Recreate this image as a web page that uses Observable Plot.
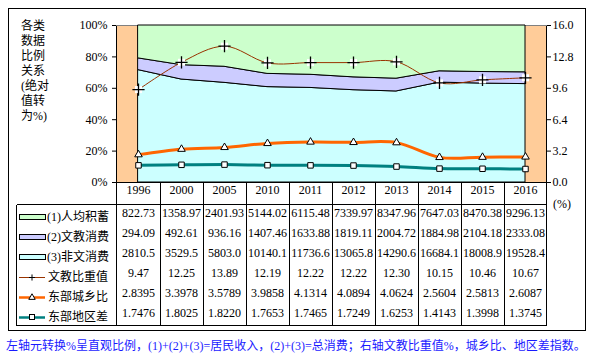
<!DOCTYPE html>
<html><head><meta charset="utf-8">
<script src="https://cdn.jsdelivr.net/npm/d3@7"></script>
<script src="https://cdn.jsdelivr.net/npm/@observablehq/plot@0.6"></script>
<style>
html,body{margin:0;padding:0;background:#fff;}
svg{display:block;}
</style></head><body>
<div id="chart"></div>
<script>
// ---- data ----
const years = ["1996","2000","2005","2010","2011","2012","2013","2014","2015","2016"];
const savings    = [822.73,1358.97,2401.93,5144.02,6115.48,7339.97,8347.96,7647.03,8470.38,9296.13];
const eduSpend   = [294.09,492.61,936.16,1407.46,1633.88,1819.11,2004.72,1884.98,2104.18,2333.08];
const otherSpend = [2810.5,3529.5,5803.0,10140.1,11736.6,13065.8,14290.6,16684.1,18008.9,19528.4];
const eduShare   = [9.47,12.25,13.89,12.19,12.22,12.22,12.30,10.15,10.46,10.67];
const urbanRural = [2.8395,3.3978,3.5789,3.9858,4.1314,4.0894,4.0624,2.5604,2.5813,2.6087];
const regionGap  = [1.7476,1.8025,1.8220,1.7653,1.7465,1.7249,1.6253,1.4143,1.3998,1.3745];

const rowLabels = ["(1)人均积蓄","(2)文教消费","(3)非文消费","文教比重值","东部城乡比","东部地区差"];
const rowDecimals = [2,2,1,2,4,4];
const leftTicks = [0,0.2,0.4,0.6,0.8,1];
const rightTicks = [0,3.2,6.4,9.6,12.8,16];
const rightMax = 16;
const titleLines = ["各类","数据","比例","关系","(绝对","值转","为%)"];
const captionText = "左轴元转换%呈直观比例，(1)+(2)+(3)=居民收入，(2)+(3)=总消费；右轴文教比重值%，城乡比、地区差指数。";

// colours
const cGreen = "#CCFFCC", cLav = "#CCCCFF", cCyan = "#CCFFFF", cSide = "#FFCC99";
const cEdu = "#993300", cUR = "#FF6600", cRG = "#008080";

// stacked table (bottom -> top)
const stackNames = [rowLabels[2], rowLabels[1], rowLabels[0]];
const stackData = [];
[otherSpend, eduSpend, savings].forEach((arr,k)=>arr.forEach((v,i)=>stackData.push({year:years[i], series:stackNames[k], value:v})));
const toRight = arr => arr.map((v,i)=>({year:years[i], v:v/rightMax}));
const eduLine = toRight(eduShare), urLine = toRight(urbanRural), rgLine = toRight(regionGap);

const W=594, H=357, mL=116, mR=48, mT=25, mB=175;
const serif = '"Liberation Serif","Times New Roman",serif';
const mixed = '"Liberation Serif","Noto Sans CJK SC",sans-serif';
const rowDy0 = 34.5, rowH = 20;

const marks = [
  Plot.frame({fill:cSide, stroke:"#808080"}),
  Plot.areaY(stackData, Plot.stackY({offset:"normalize"}, {x:"year", y:"value", z:"series", fill:"series", stroke:"black", strokeWidth:1})),
  Plot.line(eduLine, {x:"year", y:"v", stroke:cEdu, strokeWidth:1, curve:"cardinal", tension:0}),
  Plot.line(urLine, {x:"year", y:"v", stroke:cUR, strokeWidth:3, curve:"cardinal", tension:0}),
  Plot.line(rgLine, {x:"year", y:"v", stroke:cRG, strokeWidth:3, curve:"cardinal", tension:0}),
  Plot.dot(eduLine, {x:"year", y:"v", symbol:"square", r:4, fill:"white", stroke:null}),
  Plot.dot(eduLine, {x:"year", y:"v", symbol:"plus", r:4, stroke:"black", strokeWidth:1.3}),
  Plot.dot(urLine, {x:"year", y:"v", symbol:"triangle", r:2.8, fill:"white", stroke:"black", strokeWidth:1}),
  Plot.dot(rgLine, {x:"year", y:"v", symbol:"square", r:3.1, fill:"white", stroke:"black", strokeWidth:1}),
  Plot.axisY(leftTicks, {anchor:"left", tickSize:4, tickPadding:5, tickFormat:d3.format(".0%"), fontSize:12, fontFamily:serif, label:null}),
  Plot.axisY(rightTicks.map(v=>v/rightMax), {anchor:"right", tickSize:4, tickPadding:2, tickFormat:d=>(d*rightMax).toFixed(1), fontSize:12, fontFamily:serif, label:null}),
  Plot.text(years, {x:d=>d, text:d=>d, frameAnchor:"bottom", dy:11, fontSize:12, fontFamily:serif})
];
[savings, eduSpend, otherSpend, eduShare, urbanRural, regionGap].forEach((arr,k)=>{
  marks.push(Plot.text(arr, {x:(d,i)=>years[i], text:d=>d.toFixed(rowDecimals[k]), frameAnchor:"bottom", dy:rowDy0+rowH*k, fontSize:12, fontFamily:serif}));
});

const plot = Plot.plot({
  width:W, height:H, marginLeft:mL, marginRight:mR, marginTop:mT, marginBottom:mB,
  style:{fontFamily:serif, fontSize:"12px", color:"black", background:"white", overflow:"visible"},
  x:{type:"point", domain:years, padding:0.5, axis:null},
  y:{domain:[0,1], axis:null},
  color:{domain:stackNames, range:[cCyan,cLav,cGreen]},
  marks
});
document.getElementById("chart").appendChild(plot);

// ---- chrome: border, table grid, legend, titles ----
const svg = d3.select(plot);
const xs = plot.scale("x");
const step = xs.apply(years[1]) - xs.apply(years[0]);
const fL = mL, fR = W - mR, fT = mT, fB = H - mB;
const tTop = fB + 22, tBot = tTop + rowH*6 + 1, tLeft = 16;
const g = svg.append("g").attr("stroke","black").attr("stroke-width",1).attr("fill","none").attr("shape-rendering","crispEdges");
const ln = (x1,y1,x2,y2)=>g.append("line").attr("x1",x1+0.5).attr("y1",y1+0.5).attr("x2",x2+0.5).attr("y2",y2+0.5);
g.append("rect").attr("x",8.5).attr("y",8.5).attr("width",577).attr("height",322);
ln(fL,fT,fL,tBot); ln(fR,fT,fR,tBot);
ln(fL,fB,fR,fB); ln(tLeft,tTop,fR,tTop); ln(tLeft,tBot,fR,tBot); ln(tLeft,tTop,tLeft,tBot);
years.forEach((y,i)=>{ if(i>0){ const xb = Math.round(xs.apply(y) - step/2); ln(xb,fB,xb,tBot);} });

// legend
const lg = svg.append("g").attr("text-anchor","start");
const rowY = k => fB + rowDy0 + rowH*k;
[cGreen,cLav,cCyan].forEach((c,k)=>{
  lg.append("rect").attr("x",19.5).attr("y",Math.round(rowY(k))-2.5).attr("width",26).attr("height",5).attr("fill",c).attr("stroke","black").attr("shape-rendering","crispEdges");
});
const sym = (type,size)=>d3.symbol(type,size)();
[[cEdu,1],[cUR,2.5],[cRG,2.5]].forEach(([c,w],j)=>{
  const k=j+3, y=Math.round(rowY(k))+0.5;
  lg.append("line").attr("x1",19).attr("x2",45).attr("y1",y).attr("y2",y).attr("stroke",c).attr("stroke-width",w);
});
lg.append("path").attr("d",sym(d3.symbolPlus,14)).attr("transform",`translate(32,${Math.round(rowY(3))+0.5})`).attr("stroke","black").attr("fill","none");
lg.append("path").attr("d",sym(d3.symbolTriangle,18)).attr("transform",`translate(32,${Math.round(rowY(4))+0.5})`).attr("stroke","black").attr("fill","white");
lg.append("rect").attr("x",29.5).attr("y",Math.round(rowY(5))-2.5).attr("width",5).attr("height",5).attr("stroke","black").attr("fill","white");
rowLabels.forEach((t,k)=>{
  lg.append("text").attr("x",k<3?47:48).attr("y",rowY(k)).attr("dy","0.36em").attr("text-anchor","start").attr("font-family",mixed).attr("font-size",12).attr("fill","black").text(t);
});

// left vertical title
titleLines.forEach((t,i)=>{
  svg.append("text").attr("x",21).attr("y",25+i*15).attr("dy","0.38em").attr("text-anchor","start").attr("font-family",mixed).attr("font-size",12).attr("fill","black").text(t);
});
// right unit
svg.append("text").attr("x",562).attr("y",204).attr("dy","0.35em").attr("text-anchor","middle").attr("font-family",serif).attr("font-size",12).attr("fill","black").text("(%)");
// caption
svg.append("text").attr("x",6).attr("y",345).attr("dy","0.38em").attr("text-anchor","start").attr("font-family",mixed).attr("font-size",12).attr("fill","#1a1aff").text(captionText);
</script>
</body></html>
